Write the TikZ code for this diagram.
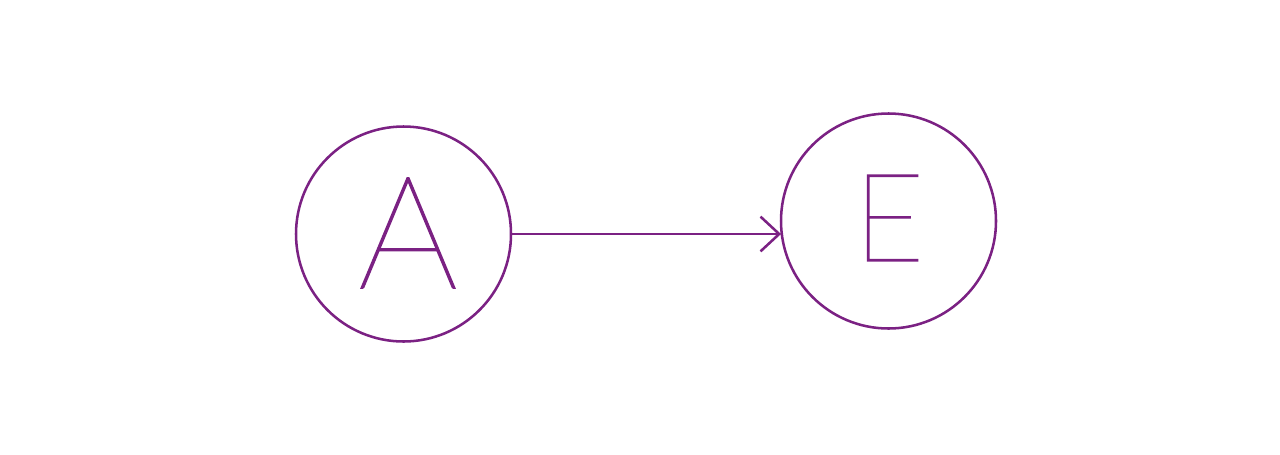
\documentclass[tikz,border=0pt]{standalone}
\usepackage{fontspec}
\newfontfamily\thinfont{Lato Thin}[UprightFeatures={FakeBold=1}]
\usetikzlibrary{arrows.meta}
\definecolor{vio}{HTML}{7B2183}
\tikzset{
  circ/.style={circle, draw=vio, line width=1.9pt, minimum size=161.25pt, inner sep=0pt},
  letter/.style={text=vio, inner sep=0pt, font=\thinfont},
  conn/.style={draw=vio, line width=1.9pt, -{Straight Barb[length=14pt,width=26pt]}}
}
\begin{document}
\begin{tikzpicture}[x=0.75pt,y=-0.75pt]
\useasboundingbox (0,0) rectangle (1280,454);
\node[circ] (A) at (403.5,234) {};
\node[circ] (E) at (888.5,221) {};
\node[letter, font=\thinfont\fontsize{118}{118}\selectfont] (la) at (408,233) {A};
\node[letter, font=\thinfont\fontsize{92}{92}\selectfont] (le) at (889,218) {E};
\coordinate (t) at ([xshift=1pt]A.east -| E.west);
\draw[conn] (A.east) -- (t);
\end{tikzpicture}
\end{document}
